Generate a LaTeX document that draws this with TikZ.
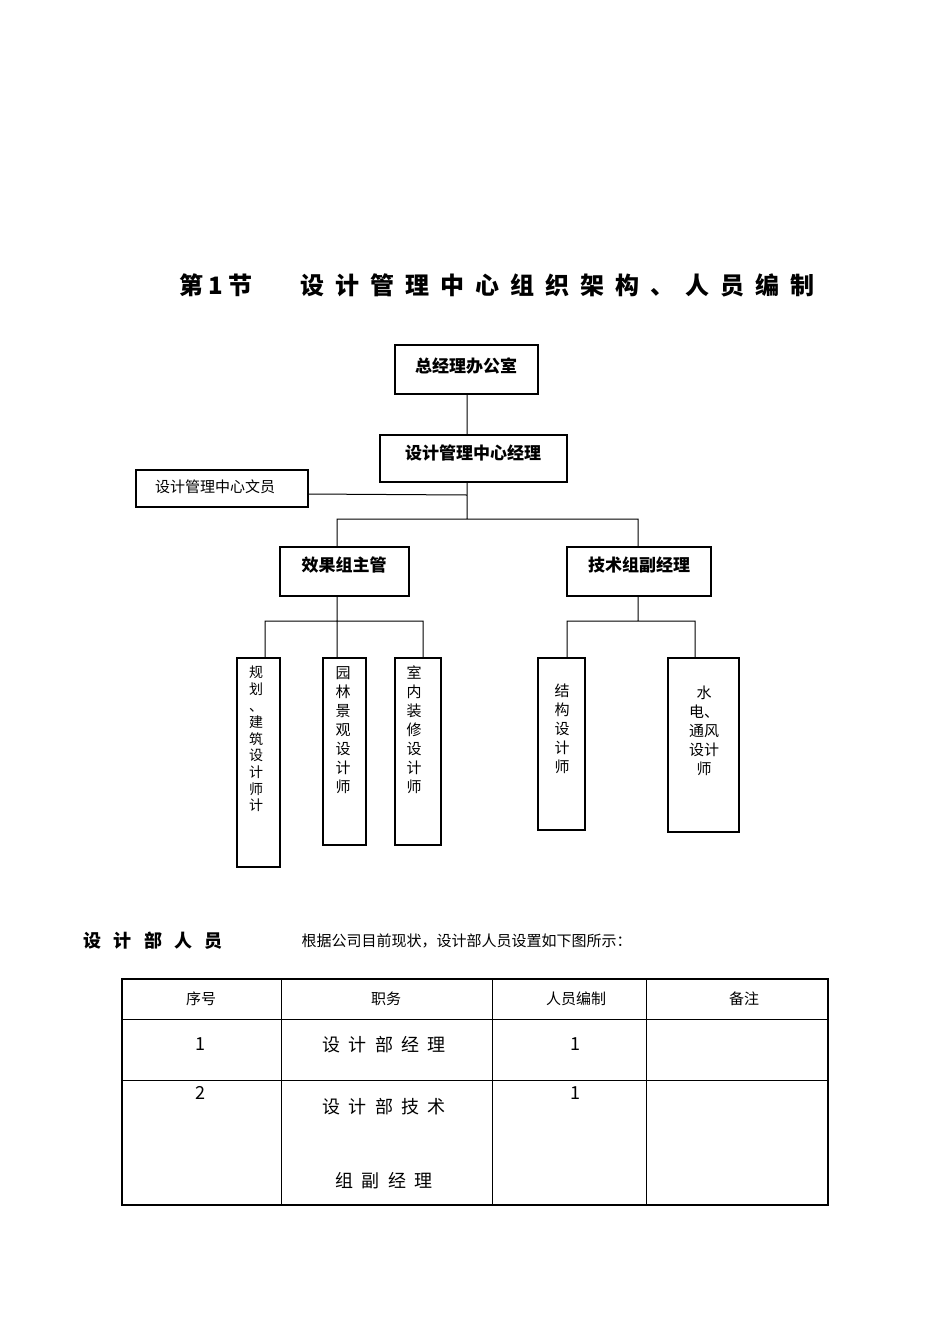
\documentclass[tikz,border=0pt]{standalone}
\usepackage{fontspec}
\setmainfont{Noto Sans CJK SC}
\begin{document}
\begin{tikzpicture}[x=1pt,y=-1pt,
  bx/.style={draw,line width=1.1pt},
  ln/.style={line width=1pt},
  lbl/.style={font=\fontsize{15}{17}\selectfont},
  hb/.style={font=\fontsize{17}{20}\bfseries},
  tb/.style={font=\fontsize{18}{20}\selectfont},
  vt/.style={font=\fontsize{15}{19}\selectfont,align=center,inner sep=0pt,anchor=north}]
\useasboundingbox (0,0) rectangle (950,1344);
\node[font=\fontsize{24}{28}\bfseries] (title) at (497,285) {第\ 1\ 节\quad\quad 设\ \ 计\ \ 管\ \ 理\ \ 中\ \ 心\ \ 组\ \ 织\ \ 架\ \ 构\ \ 、\ \ 人\ \ 员\ \ 编\ \ 制};
\draw[bx] (395,345) rectangle (538,394); \node[hb] (a) at (466,366) {总经理办公室};
\draw[bx] (380,435) rectangle (567,482); \node[hb] (b) at (473,453) {设计管理中心经理};
\draw[bx] (136,470) rectangle (308,507); \node[lbl] (c) at (215,487) {设计管理中心文员};
\draw[bx] (280,547) rectangle (409,596); \node[hb] (d) at (344,565) {效果组主管};
\draw[bx] (567,547) rectangle (711,596); \node[hb] (e) at (639,565) {技术组副经理};
\draw[ln] (467,394)--(467,435) (467,482)--(467,519) (308,494)--(467,495)
  (337,547)--(337,519)--(638,519)--(638,547)
  (337,596)--(337,658) (265,658)--(265,621)--(423,621)--(423,658)
  (638,596)--(638,621) (567,658)--(567,621)--(695,621)--(695,658);
\draw[bx] (237,658) rectangle (280,867);
\draw[bx] (323,658) rectangle (366,845);
\draw[bx] (395,658) rectangle (441,845);
\draw[bx] (538,658) rectangle (585,830);
\draw[bx] (668,658) rectangle (739,832);
\node[vt,font=\fontsize{14}{16.6}\selectfont] (f1) at (256,666) {规\\划\\、\\建\\筑\\设\\计\\师\\计};
\node[vt] (f2) at (343,666) {园\\林\\景\\观\\设\\计\\师};
\node[vt] (f3) at (414,666) {室\\内\\装\\修\\设\\计\\师};
\node[vt] (f4) at (562,684) {结\\构\\设\\计\\师};
\node[vt] (f5) at (704,686) {水\\电、\\通风\\设计\\师};
\node[font=\fontsize{18}{20}\bfseries,anchor=west] (s) at (80,941) {设\ \ \ 计\ \ \ 部\ \ \ 人\ \ \ 员};
\node[lbl,anchor=west] (s2) at (298,941) {根据公司目前现状，设计部人员设置如下图所示：};
\draw[line width=1.6pt] (122,979) rectangle (828,1205);
\draw[ln] (122,1019)--(828,1019) (122,1080)--(828,1080)
  (281,979)--(281,1205) (492,979)--(492,1205) (646,979)--(646,1205);
\node[lbl] (h1) at (201,999) {序号};
\node[lbl] (h2) at (386,999) {职务};
\node[lbl] (h3) at (576,999) {人员编制};
\node[lbl] (h4) at (744,999) {备注};
\node[tb] (r1) at (200,1044) {1};
\node[tb] (r2) at (384,1045) {设\ \ 计\ \ 部\ \ 经\ \ 理};
\node[tb] (r3) at (575,1044) {1};
\node[tb] (r4) at (200,1093) {2};
\node[tb] (r5) at (384,1107) {设\ \ 计\ \ 部\ \ 技\ \ 术};
\node[tb] (r6) at (384,1181) {组\ \ 副\ \ 经\ \ 理};
\node[tb] (r7) at (575,1093) {1};
\end{tikzpicture}
\end{document}
